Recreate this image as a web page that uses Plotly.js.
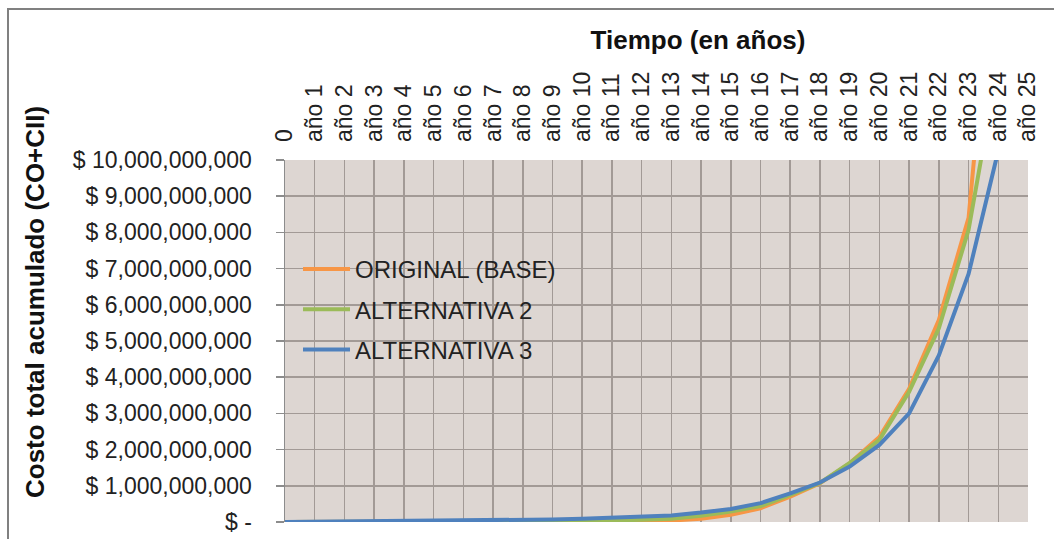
<!DOCTYPE html>
<html>
<head>
<meta charset="utf-8">
<script src="https://cdn.plot.ly/plotly-3.0.1.min.js"></script>
<style>
  html, body { margin: 0; padding: 0; background: #ffffff; }
  #chart { width: 1054px; height: 539px; }
</style>
</head>
<body>
<div id="chart"></div>
<script>
// Categories (years)
const categories = ["0", "año 1", "año 2", "año 3", "año 4", "año 5", "año 6", "año 7", "año 8", "año 9",
  "año 10", "año 11", "año 12", "año 13", "año 14", "año 15", "año 16", "año 17", "año 18", "año 19",
  "año 20", "año 21", "año 22", "año 23", "año 24", "año 25"];

// Cumulative total cost (CO+CII), in pesos
const originalBase = [0, 0, 0, 0, 0, 0, 0, 0, 5e6, 10e6,
  10e6, 15e6, 20e6, 40e6, 90e6, 200e6, 380e6, 700e6, 1070e6, 1620e6,
  2350e6, 3680e6, 5580e6, 8400e6, 15500e6, 26000e6];
const alternativa2 = [0, 0, 0, 0, 0, 0, 5e6, 10e6, 15e6, 20e6,
  30e6, 40e6, 60e6, 90e6, 170e6, 290e6, 440e6, 750e6, 1080e6, 1630e6,
  2270e6, 3600e6, 5350e6, 8070e6, 12700e6, 20000e6];
const alternativa3 = [0, 5e6, 10e6, 15e6, 20e6, 25e6, 30e6, 40e6, 50e6, 70e6,
  90e6, 120e6, 150e6, 180e6, 260e6, 360e6, 520e6, 790e6, 1090e6, 1530e6,
  2130e6, 3000e6, 4600e6, 6850e6, 10260e6, 15000e6];

const seriesNames = ["ORIGINAL (BASE)", "ALTERNATIVA 2", "ALTERNATIVA 3"];

// Y axis ticks
const yTickValues = [0, 1e9, 2e9, 3e9, 4e9, 5e9, 6e9, 7e9, 8e9, 9e9, 10e9];
const yTickLabels = ["$ -", "$ 1,000,000,000", "$ 2,000,000,000", "$ 3,000,000,000", "$ 4,000,000,000",
  "$ 5,000,000,000", "$ 6,000,000,000", "$ 7,000,000,000", "$ 8,000,000,000", "$ 9,000,000,000",
  "$ 10,000,000,000"];

const xTitle = "Tiempo (en años)";
const yTitle = "Costo total acumulado (CO+CII)";

const FONT = "Arial, 'Liberation Sans', Helvetica, sans-serif";
const colors = ["#F79646", "#9BBB59", "#4F81BD"];
const seriesValues = [originalBase, alternativa2, alternativa3];

const traces = seriesValues.map((vals, i) => ({
  type: "scatter",
  mode: "lines",
  x: categories,
  y: vals,
  name: seriesNames[i],
  legendgroup: "g" + i,
  line: { color: colors[i], width: 4 },
  hoverinfo: "x+y+name"
}));

// Plot area pixel geometry
const W = 1054, H = 539;
const L = 285, R = 1028, T = 160, B = 522;
const px2x = px => (px - L) / (R - L);
const px2y = py => (B - py) / (B - T);

const layout = {
  width: W,
  height: H,
  margin: { l: L, r: W - R, t: T, b: H - B, pad: 0 },
  paper_bgcolor: "#ffffff",
  plot_bgcolor: "#DDD6D2",
  font: { family: FONT, color: "#222222", size: 23 },
  showlegend: true,
  title: {
    text: "<b>" + xTitle + "</b>",
    font: { family: FONT, size: 26, color: "#111111" },
    xref: "container",
    yref: "container",
    x: 698 / W,
    xanchor: "center",
    y: 1 - 40 / H,
    yanchor: "middle"
  },
  xaxis: {
    type: "category",
    side: "top",
    range: [0, categories.length - 1],
    tickangle: -90,
    ticks: "",
    ticklabelstandoff: 17,
    tickfont: { family: FONT, size: 23, color: "#222222" },
    showgrid: true,
    gridcolor: "#A29A96",
    gridwidth: 1.5,
    showline: false,
    zeroline: false,
    fixedrange: true
  },
  yaxis: {
    range: [0, 10e9],
    tickvals: yTickValues,
    ticktext: yTickLabels,
    ticks: "outside",
    ticklen: 8,
    tickwidth: 1.5,
    tickcolor: "#8c8c8c",
    ticklabelstandoff: 19,
    tickfont: { family: FONT, size: 23, color: "#222222" },
    showgrid: true,
    gridcolor: "#A29A96",
    gridwidth: 1.5,
    showline: true,
    linecolor: "#8c8c8c",
    linewidth: 1.5,
    zeroline: false,
    fixedrange: true
  },
  legend: {
    x: px2x(298),
    y: px2y(247),
    xanchor: "left",
    yanchor: "top",
    bgcolor: "rgba(0,0,0,0)",
    borderwidth: 0,
    itemwidth: 47,
    font: { family: FONT, size: 24, color: "#222222" },
    tracegroupgap: 6,
    traceorder: "grouped"
  },
  annotations: [
    {
      text: "<b>" + yTitle + "</b>",
      xref: "paper",
      yref: "paper",
      x: px2x(35),
      y: px2y(302),
      xanchor: "center",
      yanchor: "middle",
      textangle: -90,
      showarrow: false,
      font: { family: FONT, size: 26, color: "#111111" }
    }
  ],
  shapes: [
    {
      type: "path",
      xref: "paper",
      yref: "paper",
      path: "M " + px2x(8) + "," + px2y(H + 2) + " L " + px2x(8) + "," + px2y(9) + " L " + px2x(W + 2) + "," + px2y(9),
      line: { color: "#808080", width: 2 },
      layer: "above"
    }
  ]
};

Plotly.newPlot("chart", traces, layout, { displayModeBar: false, staticPlot: true });
</script>
</body>
</html>
